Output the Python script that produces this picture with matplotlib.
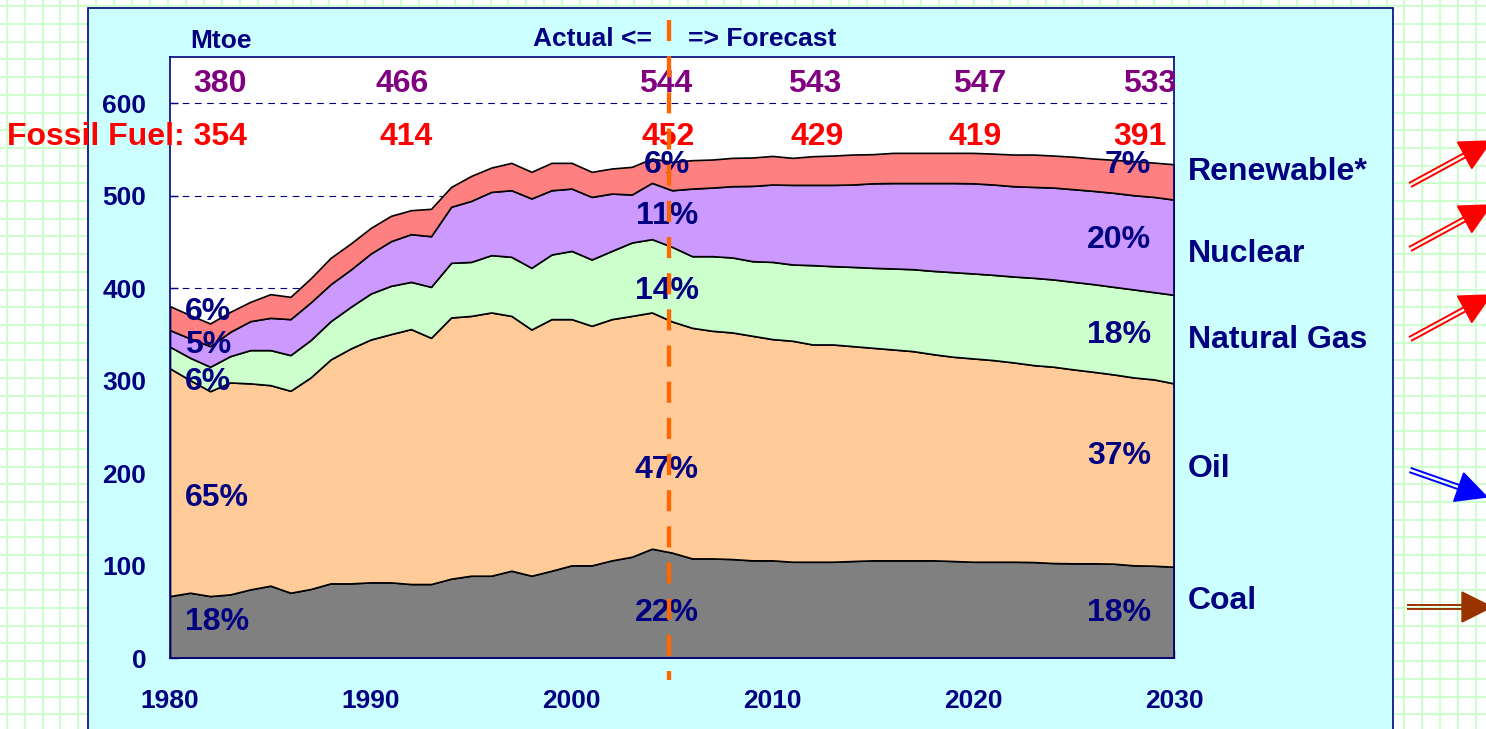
import numpy as np
import matplotlib
matplotlib.use('Agg')
import matplotlib.pyplot as plt
from matplotlib.patches import Rectangle, Polygon

plt.rcParams['font.family'] = ['Liberation Sans', 'DejaVu Sans']
plt.rcParams['font.weight'] = 'bold'

# primary energy demand in Mtoe (actual up to 2004, forecast after)
years = list(range(1980, 2031))
coal = [67.0, 70.6, 67.0, 68.8, 74.2, 78.2, 70.6, 74.6, 80.7, 80.7,
        81.8, 81.8, 80.0, 80.0, 85.8, 89.0, 89.0, 94.4, 89.0, 94.4,
        100.2, 100.2, 105.6, 109.5, 118.2, 114.0, 107.7, 107.7, 107.0, 105.6,
        105.6, 104.1, 104.1, 104.1, 104.9, 105.6, 105.6, 105.6, 105.6, 104.9,
        104.1, 104.1, 104.1, 103.8, 102.7, 102.4, 102.4, 102.0, 100.2, 99.8,
        98.7]
oil = [246.2, 229.9, 221.6, 229.2, 222.8, 216.9, 218.4, 228.8, 242.2, 254.1,
       262.7, 268.5, 275.7, 266.3, 282.5, 281.0, 284.7, 275.6, 266.3, 272.1,
       266.3, 259.1, 260.9, 260.5, 255.5, 250.0, 249.4, 246.2, 245.1, 242.9,
       239.3, 239.0, 235.0, 235.0, 232.4, 229.9, 228.1, 226.3, 223.0, 220.9,
       219.9, 218.1, 215.6, 213.0, 212.3, 209.7, 207.1, 204.7, 203.2, 201.5,
       198.3]
gas = [23.4, 24.2, 26.4, 28.5, 36.0, 37.9, 38.6, 40.4, 41.4, 45.0,
       49.7, 52.2, 51.1, 55.1, 59.1, 58.4, 62.0, 63.9, 66.7, 69.9,
       73.8, 71.7, 73.8, 79.4, 79.3, 80.7, 77.5, 80.7, 81.1, 80.7,
       83.5, 82.5, 85.8, 84.7, 85.7, 86.5, 87.6, 88.6, 90.1, 91.5,
       91.9, 92.2, 92.9, 94.4, 94.4, 94.7, 94.8, 94.7, 95.2, 94.4,
       95.8]
nuclear = [18.0, 20.9, 22.3, 26.3, 31.3, 34.9, 38.9, 40.7, 40.0, 40.3,
           43.3, 48.3, 51.6, 54.8, 60.6, 66.0, 68.4, 72.0, 75.0, 69.5,
           67.4, 67.7, 62.0, 51.9, 60.9, 61.2, 73.1, 74.2, 77.1, 81.4,
           83.7, 86.1, 86.8, 87.9, 89.1, 91.4, 92.4, 93.2, 95.0, 96.4,
           97.5, 97.7, 97.7, 98.3, 99.4, 100.2, 100.9, 101.7, 101.9, 103.0,
           103.0]
renewable = [25.9, 25.2, 24.5, 21.6, 20.9, 25.6, 24.1, 26.0, 28.5, 28.2,
             27.7, 27.4, 25.9, 29.6, 21.5, 27.0, 26.3, 29.6, 28.8, 29.6,
             27.8, 27.1, 27.1, 29.9, 26.3, 30.7, 30.7, 30.3, 30.6, 30.7,
             30.9, 29.2, 31.0, 31.7, 32.4, 31.5, 32.6, 32.6, 32.6, 32.6,
             32.9, 33.4, 34.2, 35.0, 34.6, 35.1, 35.0, 35.7, 36.8, 37.1,
             38.2]

fuel_names = ['Coal', 'Oil', 'Natural Gas', 'Nuclear', 'Renewable*']
fuel_colors = ['#808080', '#FFCC99', '#CCFFCC', '#CC99FF', '#FF8080']

# totals and fossil fuel totals printed above the areas
total_labels = ['380', '466', '544', '543', '547', '533']
fossil_labels = ['354', '414', '452', '429', '419', '391']

# shares, bottom to top (coal, oil, gas, nuclear, renewable)
share_1980 = ['18%', '65%', '6%', '5%', '6%']
share_2004 = ['22%', '47%', '14%', '11%', '6%']
share_2030 = ['18%', '37%', '18%', '20%', '7%']

navy = '#000080'

# where the labels sit (years / Mtoe, baselines)
total_x = [1982.5, 1991.55, 2004.7, 2012.1, 2020.3, 2028.8]
fossil_x = [1983.83, 1991.75, 2004.83, 2012.25, 2020.1, 2028.3]
share_1980_y = [30.3, 164.3, 289.7, 329.4, 365.4]
share_2004_y = [40.4, 194.2, 388.1, 469.2, 524.7]
share_2030_y = [40.4, 209.7, 340.2, 443.4, 524.7]
name_y = [53.1, 195.9, 334.9, 428.7, 517.5]

fig = plt.figure(figsize=(1486 / 100, 729 / 100), dpi=100)

# graph paper background + cyan panel, in pixel coordinates
bg = fig.add_axes([0, 0, 1, 1])
bg.set_xlim(0, 1486)
bg.set_ylim(729, 0)
bg.axis('off')
for gx in np.arange(6.7, 1486, 17.92):
    bg.axvline(gx, color='#ccffcc', lw=1.4, zorder=1)
for gy in np.arange(6.3, 729, 17.7):
    bg.axhline(gy, color='#ccffcc', lw=1.4, zorder=1)
bg.add_patch(Rectangle((88, 8), 1305, 760, facecolor='#ccffff',
                       edgecolor=navy, lw=1.2, zorder=2))


def double_arrow(x0, y0, x1, y1, color):
    d = np.array([x1 - x0, y1 - y0], dtype=float)
    u = d / np.hypot(d[0], d[1])
    n = np.array([-u[1], u[0]])
    base = np.array([x1, y1]) - u * 30
    for s in (-1, 1):
        p0 = np.array([x0, y0]) + s * 2.2 * n
        p1 = base + s * 2.2 * n
        bg.plot([p0[0], p1[0]], [p0[1], p1[1]], color=color, lw=1.4,
                solid_capstyle='butt', zorder=3)
    tri = [(x1, y1), tuple(base + n * 15), tuple(base - n * 15)]
    bg.add_patch(Polygon(tri, closed=True, color=color, zorder=3))


double_arrow(1410, 185, 1491, 141, '#FF0000')
double_arrow(1410, 249, 1491, 205, '#FF0000')
double_arrow(1410, 339, 1491, 295, '#FF0000')
double_arrow(1410, 470, 1487, 497, '#0000FF')
double_arrow(1407, 607, 1492, 607, '#993300')

# main chart
ax = fig.add_axes([170 / 1486, 71 / 729, 1004 / 1486, 601 / 729], zorder=5)
ax.stackplot(years, coal, oil, gas, nuclear, renewable, colors=fuel_colors,
             edgecolor='black', linewidth=1.2)
ax.set_xlim(1980, 2030)
ax.set_ylim(0, 650)
ax.set_yticks(range(0, 700, 100))
ax.set_xticks(range(1980, 2031, 10))
ax.set_xticks(range(1985, 2030, 10), minor=True)
ax.tick_params(axis='both', which='both', direction='in', length=6, width=1,
               color=navy, labelcolor=navy, labelsize=19)
ax.tick_params(axis='y', pad=17)
ax.tick_params(axis='x', pad=22)
ax.yaxis.grid(True, color=navy, ls=(0, (6, 5)), lw=0.8)
ax.set_axisbelow(True)
for sp in ax.spines.values():
    sp.set_color(navy)
    sp.set_linewidth(1.2)

ax.text(1982.54, 660, 'Mtoe', color=navy, fontsize=19, ha='center', va='baseline')
ax.text(2004.0, 661.6, 'Actual <=', color=navy, fontsize=19, ha='right', va='baseline')
ax.text(2005.8, 661.6, '=> Forecast', color=navy, fontsize=19, ha='left', va='baseline')

for x, lab in zip(total_x, total_labels):
    ax.text(x, 612.5, lab, color='#800080', fontsize=23, ha='center', va='baseline')
for i, (x, lab) in enumerate(zip(fossil_x, fossil_labels)):
    if i == 0:
        ax.text(x, 554.6, 'Fossil Fuel: ' + lab, color='#FF0000', fontsize=23,
                ha='right', va='baseline')
    else:
        ax.text(x, 554.6, lab, color='#FF0000', fontsize=23, ha='center', va='baseline')

for lab, y in zip(share_1980, share_1980_y):
    ax.text(1980.75, y, lab, color=navy, fontsize=23, ha='left', va='baseline')
for lab, y in zip(share_2004, share_2004_y):
    ax.text(2004.75, y, lab, color=navy, fontsize=23, ha='center', va='baseline')
for lab, y in zip(share_2030, share_2030_y):
    ax.text(2028.85, y, lab, color=navy, fontsize=23, ha='right', va='baseline')
for lab, y in zip(fuel_names, name_y):
    ax.text(2030.7, y, lab, color=navy, fontsize=23, ha='left', va='baseline')

# actual / forecast divider
ax.plot([2004.83, 2004.83], [690, -24], color='#FF6600', lw=3.1,
        ls=(0, (4.9, 3.5)), clip_on=False, zorder=10)

fig.savefig('out.png', dpi=100)
